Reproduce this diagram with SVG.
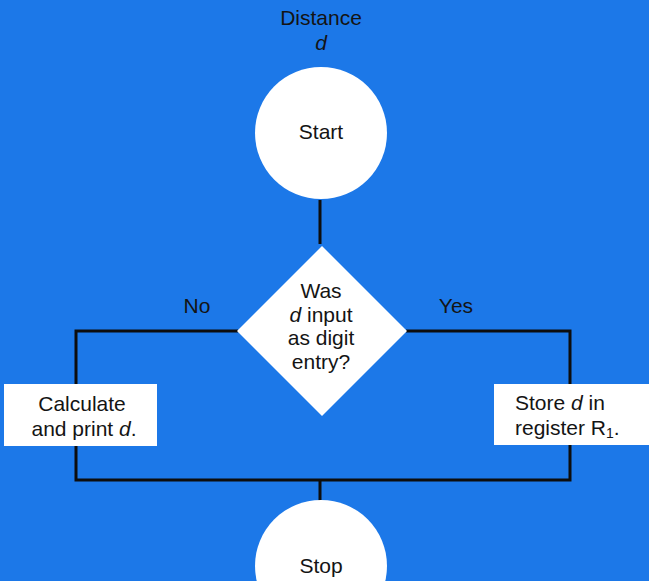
<svg xmlns="http://www.w3.org/2000/svg" width="649" height="581" viewBox="0 0 649 581">
<style>
text{font-family:"Liberation Sans",Arial,sans-serif;font-size:21px;fill:#141414}
.m{text-anchor:middle}
.i{font-style:italic}
.node{fill:#ffffff}
.conn{stroke:#0d0d0d;stroke-width:3;fill:none}
</style>
<rect x="0" y="0" width="649" height="581" fill="#1c78e8"/>
<text class="m" x="321" y="25">Distance</text>
<text class="m i" x="321" y="50">d</text>
<g id="connectors">
<path class="conn" d="M320 200 V244"/>
<path class="conn" d="M238 331 H76 V480 H570 V331 H406"/>
<path class="conn" d="M320 480 V502"/>
</g>
<g id="start">
<circle class="node" cx="321" cy="133" r="66"/>
<text class="m" x="321" y="139">Start</text>
</g>
<g id="decision">
<polygon class="node" points="322,246 407,331 322,416 237,331"/>
<text class="m" x="321" y="298">Was</text>
<text class="m" x="321" y="322"><tspan class="i">d</tspan> input</text>
<text class="m" x="321" y="345">as digit</text>
<text class="m" x="321" y="369">entry?</text>
</g>
<text class="m" x="197" y="313">No</text>
<text class="m" x="456" y="313">Yes</text>
<g id="calc">
<rect class="node" x="4" y="384" width="153" height="62"/>
<text class="m" x="82" y="411">Calculate</text>
<text class="m" x="84" y="436">and  print <tspan class="i">d</tspan>.</text>
</g>
<g id="store">
<rect class="node" x="494" y="384" width="155" height="61"/>
<text x="515" y="410">Store <tspan class="i">d</tspan>  in</text>
<text x="515" y="435">register R<tspan font-size="14" dy="3">1</tspan><tspan dy="-3">.</tspan></text>
</g>
<g id="stop">
<circle class="node" cx="321" cy="566" r="66"/>
<text class="m" x="321" y="573">Stop</text>
</g>
</svg>
